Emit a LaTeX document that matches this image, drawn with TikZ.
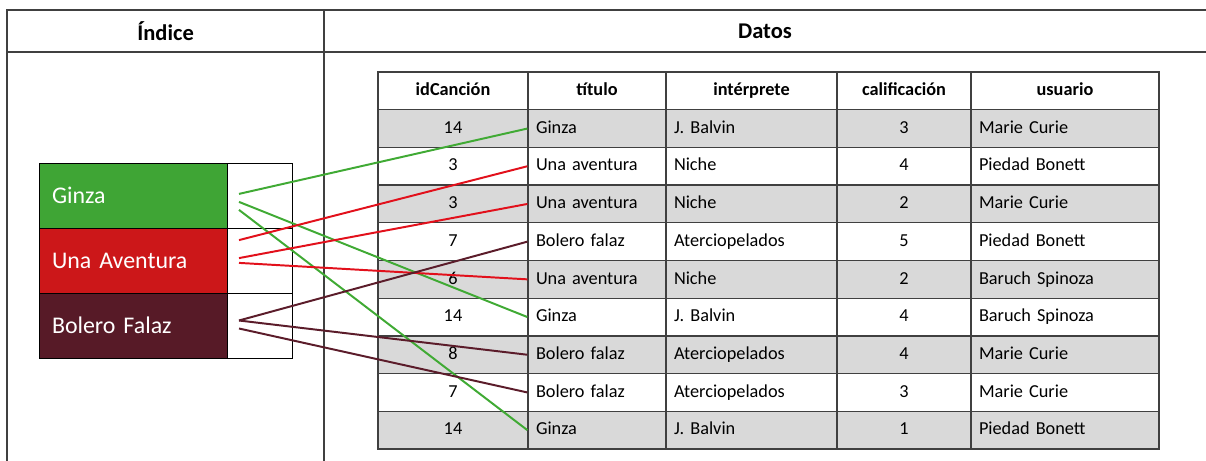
\documentclass[tikz,border=0pt]{standalone}
\usepackage{fontspec}
\setmainfont{Carlito}[WordSpace=0.8]
\usetikzlibrary{positioning, calc}
\definecolor{ginzaColor}{RGB}{63, 165, 53}
\definecolor{aventuraColor}{RGB}{204, 23, 25}
\definecolor{boleroColor}{RGB}{87, 26, 39}
\definecolor{ginzaLine}{RGB}{64, 170, 52}
\definecolor{aventuraLine}{RGB}{226, 16, 27}
\definecolor{boleroLine}{RGB}{91, 28, 42}
\definecolor{rowGray}{RGB}{217, 217, 217}
\definecolor{frameColor}{RGB}{64, 64, 64}

\begin{document}
\begin{tikzpicture}[
    node distance=0cm,
    frame/.style={draw=frameColor, line width=1.1pt},
    title/.style={font=\fontsize{16}{18}\selectfont\bfseries},
    keybox/.style={rectangle, draw=black, line width=0.6pt, outer sep=0pt, minimum width=4.7cm, minimum height=1.625cm, text width=4.05cm, inner xsep=0.325cm, align=left, text=white, font=\fontsize{17}{19}\selectfont},
    keyref/.style={rectangle, draw=black, line width=0.6pt, outer sep=0pt, fill=white, minimum width=1.625cm, minimum height=1.625cm},
    cell/.style={rectangle, draw=frameColor, line width=0.9pt, minimum height=0.9425cm, inner xsep=0.2cm, inner ysep=0pt, text height=2ex, text depth=0.6ex, font=\fontsize{13}{15}\selectfont},
    headcell/.style={cell, fill=white, align=center, font=\fontsize{13}{15}\selectfont\bfseries},
    line/.style={line width=1.4pt}
]
\useasboundingbox (0,0) rectangle (30.15,-11.525);

% Frame
\draw[frame] (0.175,-11.525) |- (30.15,-0.25);
\draw[frame] (0.175,-1.3) -- (30.15,-1.3);
\draw[frame] (8.1,-0.25) -- (8.1,-11.525);
\node (indexTitle) [title] at (4.14,-0.775) {Índice};
\node (dataTitle) [title] at (19.125,-0.775) {Datos};

% Index
\node (ginza) [keybox, fill=ginzaColor, anchor=north west] at (0.975,-4.075) {Ginza};
\node (ginzaRef) [keyref, right=of ginza] {};
\node (aventura) [keybox, fill=aventuraColor, below=of ginza] {Una Aventura};
\node (aventuraRef) [keyref, right=of aventura] {};
\node (bolero) [keybox, fill=boleroColor, below=of aventura] {Bolero Falaz};
\node (boleroRef) [keyref, right=of bolero] {};

% Table header
\foreach \col/\x/\w/\tw/\txt in {id/11.325/3.75/3.35/idCanción, tit/14.925/3.45/3.05/título, art/18.7875/4.275/3.875/intérprete, cal/22.6/3.35/2.95/calificación, usr/26.625/4.7/4.3/usuario}
    \node (h-\col) [headcell, minimum width=\w cm, text width=\tw cm] at (\x,-2.27125) {\txt};

% Table rows
\foreach \r/\id/\tit/\art/\cal/\usr in {1/14/Ginza/J. Balvin/3/Marie Curie, 2/3/Una aventura/Niche/4/Piedad Bonett, 3/3/Una aventura/Niche/2/Marie Curie, 4/7/Bolero falaz/Aterciopelados/5/Piedad Bonett, 5/6/Una aventura/Niche/2/Baruch Spinoza, 6/14/Ginza/J. Balvin/4/Baruch Spinoza, 7/8/Bolero falaz/Aterciopelados/4/Marie Curie, 8/7/Bolero falaz/Aterciopelados/3/Marie Curie, 9/14/Ginza/J. Balvin/1/Piedad Bonett} {
    \pgfmathsetmacro{\y}{-1.8-0.9425*(\r+0.5)}
    \pgfmathtruncatemacro{\odd}{mod(\r,2)}
    \ifnum\odd=1 \def\rowfill{rowGray}\else\def\rowfill{white}\fi
    \node (id-\r) [cell, fill=\rowfill, minimum width=3.75cm, text width=3.35cm, align=center] at (11.325,\y) {\id};
    \node (tit-\r) [cell, fill=\rowfill, minimum width=3.45cm, text width=3.05cm, align=left] at (14.925,\y) {\tit};
    \node (art-\r) [cell, fill=\rowfill, minimum width=4.275cm, text width=3.875cm, align=left] at (18.7875,\y) {\art};
    \node (cal-\r) [cell, fill=\rowfill, minimum width=3.35cm, text width=2.95cm, align=center] at (22.6,\y) {\cal};
    \node (usr-\r) [cell, fill=\rowfill, minimum width=4.7cm, text width=4.3cm, align=left] at (26.625,\y) {\usr};
}

% Connectors
\coordinate (ginzaA) at ($(ginzaRef.west)+(0.3,0.04)$);
\coordinate (ginzaB) at ($(ginzaRef.west)+(0.3,-0.16)$);
\coordinate (ginzaC) at ($(ginzaRef.west)+(0.3,-0.36)$);
\coordinate (aventuraA) at ($(aventuraRef.west)+(0.3,0.51)$);
\coordinate (aventuraB) at ($(aventuraRef.west)+(0.3,0.06)$);
\coordinate (aventuraC) at ($(aventuraRef.west)+(0.3,-0.06)$);
\coordinate (boleroA) at ($(boleroRef.west)+(0.3,0.125)$);
\coordinate (boleroB) at ($(boleroRef.west)+(0.3,-0.075)$);

\draw[line, ginzaLine] (ginzaA) -- (tit-1.west);
\draw[line, ginzaLine] (ginzaB) -- (tit-6.west);
\draw[line, ginzaLine] (ginzaC) -- (tit-9.west);
\draw[line, aventuraLine] (aventuraA) -- (tit-2.west);
\draw[line, aventuraLine] (aventuraB) -- (tit-3.west);
\draw[line, aventuraLine] (aventuraC) -- (tit-5.west);
\draw[line, boleroLine] (boleroA) -- (tit-4.west);
\draw[line, boleroLine] (boleroA) -- (tit-7.west);
\draw[line, boleroLine] (boleroB) -- (tit-8.west);

\end{tikzpicture}
\end{document}
